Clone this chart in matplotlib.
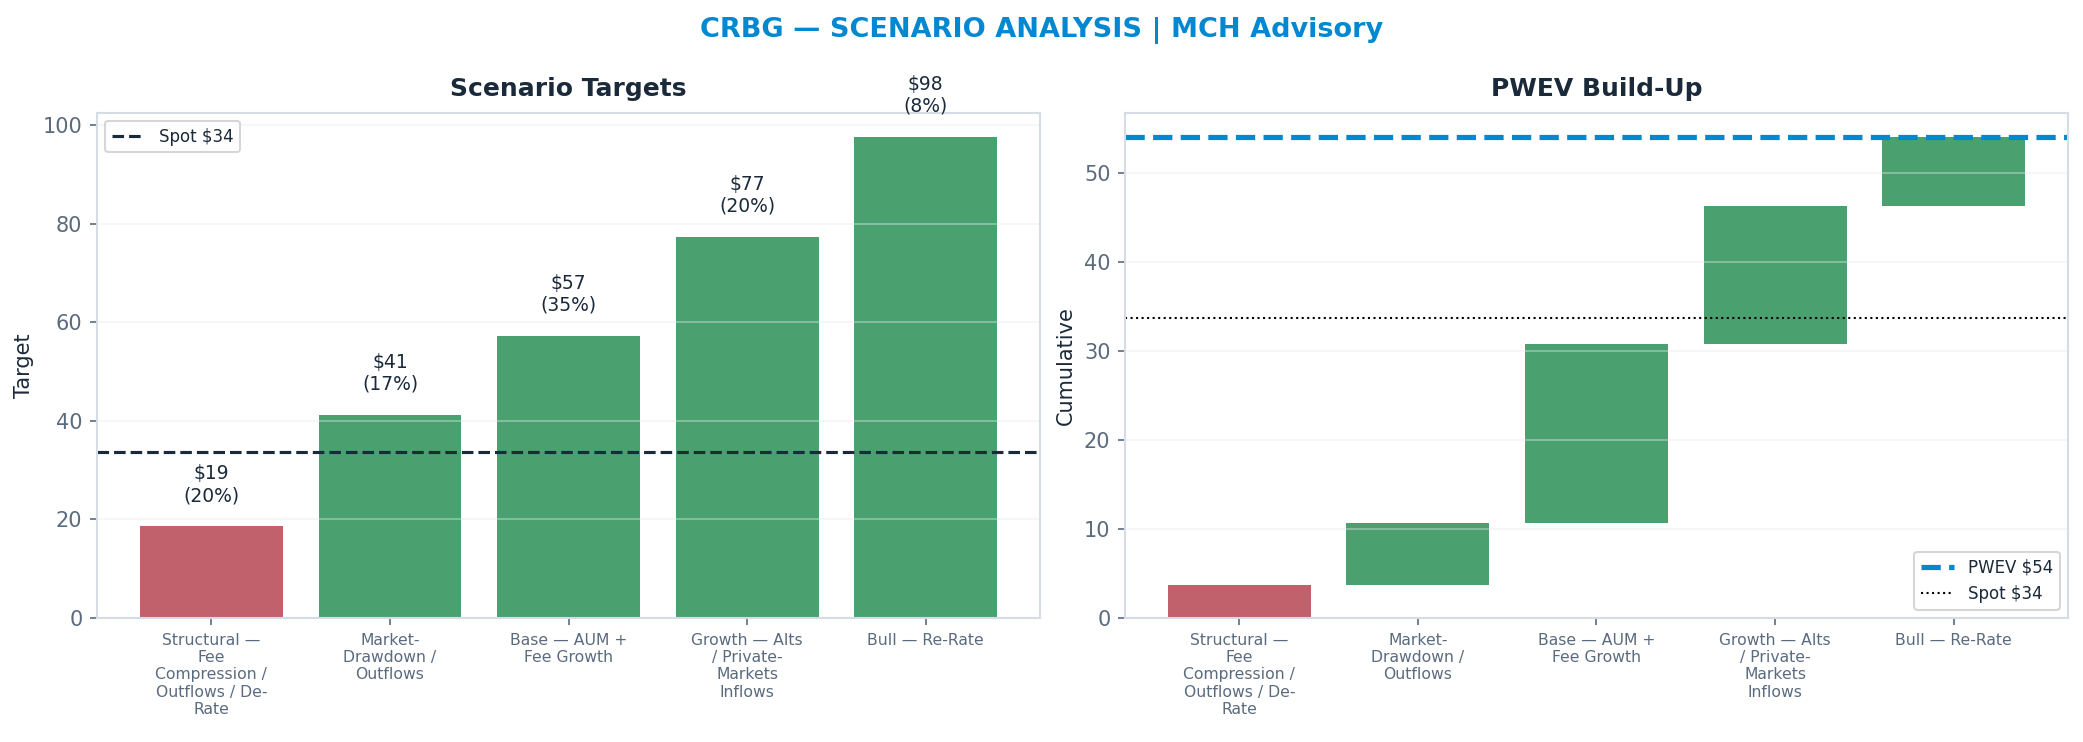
import textwrap
import numpy as np
import matplotlib
matplotlib.use("Agg")
import matplotlib.pyplot as plt

# scenario data
scenarios = [
    "Structural — Fee Compression / Outflows / De-Rate",
    "Market-Drawdown / Outflows",
    "Base — AUM + Fee Growth",
    "Growth — Alts / Private-Markets Inflows",
    "Bull — Re-Rate",
]
targets = [18.6, 41.2, 57.2, 77.3, 97.6]
probs = [0.20, 0.17, 0.35, 0.20, 0.08]
spot = 33.7

DARK = "#1B2A3A"
GREY = "#5B6B7F"
BLUE = "#0288D1"
RED = "#C0616B"
GREEN = "#4AA16F"
SPINE = "#D5DCE6"

plt.rcParams["font.family"] = "DejaVu Sans"

labels = [textwrap.fill(s, 14) for s in scenarios]
x = np.arange(len(scenarios))
colors = [RED if t < spot else GREEN for t in targets]

contrib = [t * p for t, p in zip(targets, probs)]
cum = np.cumsum(contrib)
starts = cum - np.array(contrib)
pwev = cum[-1]

fig, (ax1, ax2) = plt.subplots(1, 2, figsize=(2083 / 150, 742 / 150), dpi=150)
fig.subplots_adjust(left=0.0466, right=0.9928, bottom=0.167, top=0.848, wspace=0.09)


def style(ax):
    for s in ax.spines.values():
        s.set_color(SPINE)
        s.set_linewidth(1.0)
    ax.tick_params(axis="y", colors=GREY, labelsize=10)
    ax.tick_params(axis="x", colors=GREY, labelsize=7.5)
    ax.yaxis.grid(True, color="#E6E9EE", alpha=0.45, linewidth=0.8)
    ax.xaxis.grid(False)
    ax.set_xticks(x)
    ax.set_xticklabels(labels)


# left: scenario targets
ax1.bar(x, targets, color=colors, width=0.8)
ax1.axhline(spot, color=DARK, linestyle="--", linewidth=1.5, label=f"Spot ${spot:.0f}")
for xi, t, p in zip(x, targets, probs):
    ax1.text(xi, t + 4.3, f"${t:.0f}\n({p*100:.0f}%)", ha="center", va="bottom",
             fontsize=9, color=DARK)
ax1.set_ylim(0, max(targets) * 1.05)
ax1.set_ylabel("Target", color=DARK, fontsize=10)
ax1.set_title("Scenario Targets", fontsize=12, fontweight="bold", color=DARK, pad=8)
style(ax1)
leg1 = ax1.legend(loc="upper left", fontsize=8, frameon=True)
leg1.get_frame().set_edgecolor("#CCCCCC")
for t in leg1.get_texts():
    t.set_color(DARK)

# right: PWEV waterfall
ax2.bar(x, contrib, bottom=starts, color=colors, width=0.8)
ax2.axhline(pwev, color=BLUE, linestyle="--", linewidth=2.5, label=f"PWEV ${pwev:.0f}")
ax2.axhline(spot, color="black", linestyle=":", linewidth=1, label=f"Spot ${spot:.0f}")
ax2.set_ylim(0, pwev * 1.05)
ax2.set_ylabel("Cumulative", color=DARK, fontsize=10)
ax2.set_title("PWEV Build-Up", fontsize=12, fontweight="bold", color=DARK, pad=8)
style(ax2)
leg2 = ax2.legend(loc="lower right", fontsize=8, frameon=True)
leg2.get_frame().set_edgecolor("#CCCCCC")
for t in leg2.get_texts():
    t.set_color(DARK)

fig.suptitle("CRBG — SCENARIO ANALYSIS | MCH Advisory", fontsize=13,
             fontweight="bold", color=BLUE, y=0.977)

fig.savefig("out.png", dpi=150)
